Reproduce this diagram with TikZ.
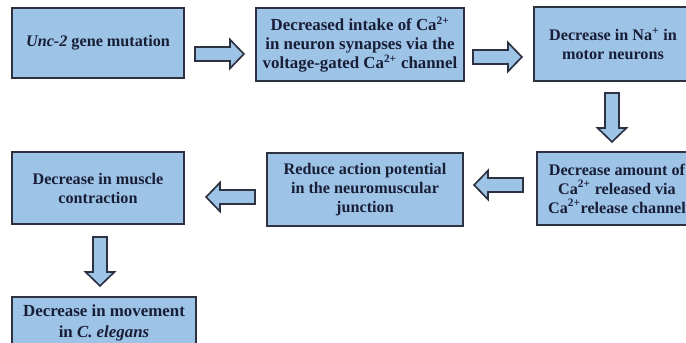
\documentclass[tikz,border=0pt]{standalone}
\usepackage{fontspec}
\setmainfont{Liberation Serif}
\usepackage{tikz}
\usetikzlibrary{calc}
\usepackage{xcolor}
\definecolor{boxblue}{RGB}{157, 195, 230}
\definecolor{boxedge}{RGB}{45, 50, 65}
\definecolor{txtnavy}{RGB}{25, 30, 55}

\begin{document}
\begin{tikzpicture}[
		x=0.025cm, y=-0.025cm,
		font=\fontsize{11.5}{13.5}\selectfont\bfseries,
		stepbox/.style={draw=boxedge, fill=boxblue, line width=1.3pt, text=txtnavy,
			align=center, inner sep=2pt},
		arr/.style={draw=boxedge, fill=boxblue, line width=1.2pt, line join=miter},
		fatarrow/.pic={
			\draw[arr] (0,-7) -- (35,-7) -- (35,-14.5) -- (49,0) -- (35,14.5) -- (35,7) -- (0,7) -- cycle;
		}
	]

	\def\px{0.025cm}

	%% canvas (pixels of the reference)
	\useasboundingbox (0,0) rectangle (686,343);
	\clip (0,0) rectangle (686,343);

	%% top row
	\node[stepbox, minimum width=172*\px, minimum height=70*\px] (mut) at (98,43)
		{\textit{Unc-2} gene mutation};
	\node[stepbox, minimum width=208*\px, minimum height=73*\px,
		font=\fontsize{12}{13.5}\selectfont\bfseries] (intake) at (360,44.5)
		{Decreased intake of Ca\textsuperscript{2+}\\in neuron synapses via the\\voltage-gated Ca\textsuperscript{2+} channel};
	\node[stepbox, minimum width=158*\px, minimum height=74*\px] (sodium) at (613,44)
		{Decrease in Na\textsuperscript{+} in\\motor neurons};

	%% middle row
	\node[stepbox, minimum width=160*\px, minimum height=73*\px] (release) at (617,188.5)
		{Decrease amount of\\Ca\textsuperscript{2+} released via\\Ca\textsuperscript{2+}release channel};
	\node[stepbox, minimum width=196*\px, minimum height=73*\px] (action) at (365,189.5)
		{Reduce action potential\\in the neuromuscular\\junction};
	\node[stepbox, minimum width=172*\px, minimum height=72*\px] (muscle) at (98,188)
		{Decrease in muscle\\contraction};

	%% bottom
	\node[stepbox, minimum width=184*\px, minimum height=52*\px,
		font=\fontsize{12}{14.5}\selectfont\bfseries] (move) at (104,323)
		{Decrease in movement\\in \textit{C. elegans}};

	%% block arrows
	\pic at ($(mut.east)+(10,11)$) {fatarrow};
	\pic at ($(intake.east)+(8,12.5)$) {fatarrow};
	\pic[rotate=-90] at ($(sodium.south)+(-1,11)$) {fatarrow};
	\pic[rotate=180] at ($(release.west)+(-13,-3.5)$) {fatarrow};
	\pic[rotate=180] at ($(action.west)+(-11,7.5)$) {fatarrow};
	\pic[rotate=-90] at ($(muscle.south)+(2,12)$) {fatarrow};

\end{tikzpicture}
\end{document}
